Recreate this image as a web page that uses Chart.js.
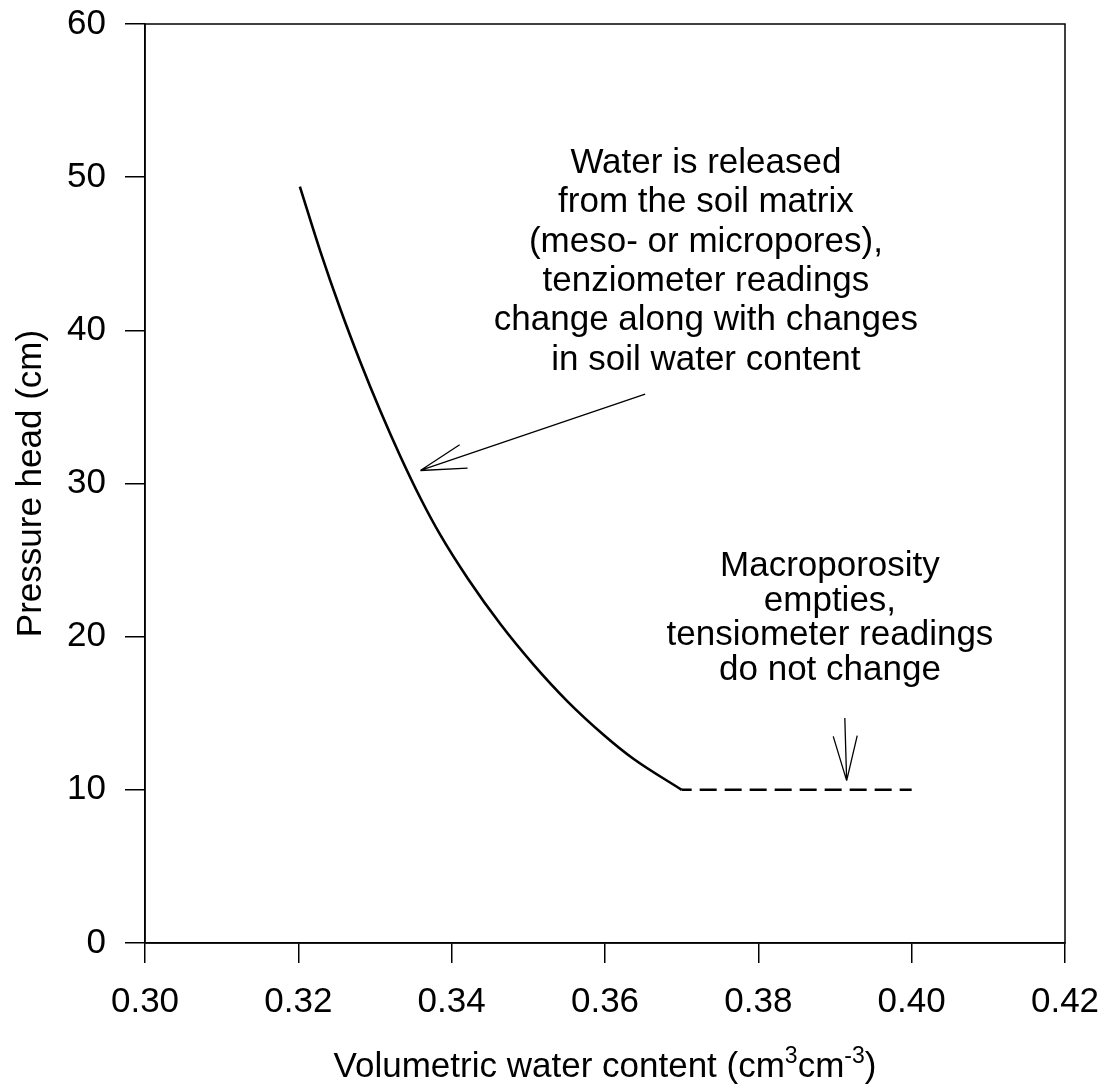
<!DOCTYPE html>
<html>
<head>
<meta charset="utf-8">
<script src="https://cdn.jsdelivr.net/npm/chart.js@4.4.1/dist/chart.umd.min.js"></script>
<style>
  html, body { margin: 0; padding: 0; background: #fff; }
  #wrap { width: 1107px; height: 1091px; position: relative; }
</style>
</head>
<body>
<div id="wrap"><canvas id="retentionChart"></canvas></div>
<script>
// Data
const waterContent = [0.3202, 0.3229, 0.3255, 0.3281, 0.3307, 0.3333, 0.3359, 0.3385, 0.3421, 0.3464, 0.3507, 0.3551, 0.3598, 0.3637, 0.3700];
const pressureHead = [49.38, 45.11, 41.36, 37.92, 34.73, 31.78, 29.07, 26.66, 23.80, 20.79, 18.16, 15.78, 13.60, 12.03, 10.0];
const flatContent = [0.3700, 0.4000];
const flatHead = [10, 10];
const xTickValues = [0.30, 0.32, 0.34, 0.36, 0.38, 0.40, 0.42];
const yTickValues = [0, 10, 20, 30, 40, 50, 60];

const matrixNote = ['Water is released', 'from the soil matrix', '(meso- or micropores),', 'tenziometer readings', 'change along with changes', 'in soil water content'];
const macroNote = ['Macroporosity', 'empties,', 'tensiometer readings', 'do not change'];
const yTitle = 'Pressure head (cm)';
const xTitleParts = [['Volumetric water content (cm', false], ['3', true], ['cm', false], ['-3', true], [')', false]];

const FONT = '"Liberation Sans", Arial, sans-serif';
Chart.defaults.font.family = FONT;
Chart.defaults.font.size = 35;
Chart.defaults.color = '#000';

function toPoints(xs, ys) {
    return xs.map((x, i) => ({ x: x, y: ys[i] }));
}

// arrows and notes, placed in data units
const annotations = {
    arrows: [
        { from: [0.36524, 35.84], to: [0.33592, 30.85], heads: [[0.34104, 32.53], [0.34208, 31.01]] },
        { from: [0.39128, 14.69], to: [0.39152, 10.60], heads: [[0.38977, 13.49], [0.39290, 13.54]] }
    ],
    notes: [
        { lines: matrixNote, at: [0.37316, 50.26], step: 39.3 },
        { lines: macroNote, at: [0.38934, 23.93], step: 34.4 }
    ]
};

const extras = {
    id: 'extras',
    afterDatasetsDraw(chart) {
        const ctx = chart.ctx;
        const xs = chart.scales.x, ys = chart.scales.y;
        const px = v => xs.getPixelForValue(v);
        const py = v => ys.getPixelForValue(v);
        const a = chart.chartArea;

        ctx.save();
        // box round the plot
        ctx.strokeStyle = '#000';
        ctx.lineWidth = 1.5;
        ctx.strokeRect(a.left, a.top, a.right - a.left, a.bottom - a.top);

        // arrows
        ctx.lineWidth = 1.3;
        annotations.arrows.forEach(ar => {
            ctx.beginPath();
            ctx.moveTo(px(ar.from[0]), py(ar.from[1]));
            ctx.lineTo(px(ar.to[0]), py(ar.to[1]));
            ar.heads.forEach(h => {
                ctx.moveTo(px(ar.to[0]), py(ar.to[1]));
                ctx.lineTo(px(h[0]), py(h[1]));
            });
            ctx.stroke();
        });

        // notes
        ctx.fillStyle = '#000';
        ctx.font = '35px ' + FONT;
        ctx.textAlign = 'center';
        ctx.textBaseline = 'alphabetic';
        annotations.notes.forEach(n => {
            const x0 = px(n.at[0]), y0 = py(n.at[1]);
            n.lines.forEach((t, i) => ctx.fillText(t, x0, y0 + i * n.step));
        });

        // y title
        ctx.save();
        ctx.translate(41, (a.top + a.bottom) / 2);
        ctx.rotate(-Math.PI / 2);
        ctx.fillText(yTitle, 0, 0);
        ctx.restore();

        // x title with superscripts
        const base = '35px ' + FONT, small = '23px ' + FONT;
        let total = 0;
        xTitleParts.forEach(p => {
            ctx.font = p[1] ? small : base;
            total += ctx.measureText(p[0]).width;
        });
        let cx = (a.left + a.right) / 2 - total / 2;
        const by = 1077;
        ctx.textAlign = 'left';
        xTitleParts.forEach(p => {
            ctx.font = p[1] ? small : base;
            ctx.fillText(p[0], cx, p[1] ? by - 14 : by);
            cx += ctx.measureText(p[0]).width;
        });
        ctx.restore();
    }
};

function noPad(axis) {
    axis.paddingLeft = 0;
    axis.paddingRight = 0;
    axis.paddingTop = 0;
    axis.paddingBottom = 0;
}

const axisStyle = {
    grid: { drawOnChartArea: false, drawTicks: true, tickLength: 20, color: '#000', lineWidth: 1.5 },
    border: { display: true, color: '#000', width: 1.5 }
};

new Chart(document.getElementById('retentionChart'), {
    type: 'line',
    data: {
        datasets: [{
            data: toPoints(waterContent, pressureHead),
            borderColor: '#000',
            borderWidth: 2.6,
            pointRadius: 0,
            cubicInterpolationMode: 'monotone',
            fill: false
        }, {
            data: toPoints(flatContent, flatHead),
            borderColor: '#000',
            borderWidth: 2.5,
            borderDash: [17, 8],
            borderDashOffset: 7,
            pointRadius: 0,
            fill: false
        }]
    },
    options: {
        responsive: true,
        maintainAspectRatio: false,
        animation: false,
        layout: { padding: { top: 24, right: 42, left: 0, bottom: 0 } },
        plugins: {
            legend: { display: false },
            tooltip: { enabled: false }
        },
        scales: {
            x: Object.assign({
                type: 'linear',
                min: 0.30,
                max: 0.42,
                afterBuildTicks: axis => { axis.ticks = xTickValues.map(v => ({ value: v })); },
                afterFit: axis => { axis.height = 148; noPad(axis); },
                ticks: {
                    padding: 18,
                    maxRotation: 0,
                    callback: v => v.toFixed(2)
                }
            }, axisStyle),
            y: Object.assign({
                type: 'linear',
                min: 0,
                max: 60,
                afterBuildTicks: axis => { axis.ticks = yTickValues.map(v => ({ value: v })); },
                afterFit: axis => { axis.width = 145; noPad(axis); },
                ticks: { padding: 19 }
            }, axisStyle)
        }
    },
    plugins: [extras]
});
</script>
</body>
</html>
